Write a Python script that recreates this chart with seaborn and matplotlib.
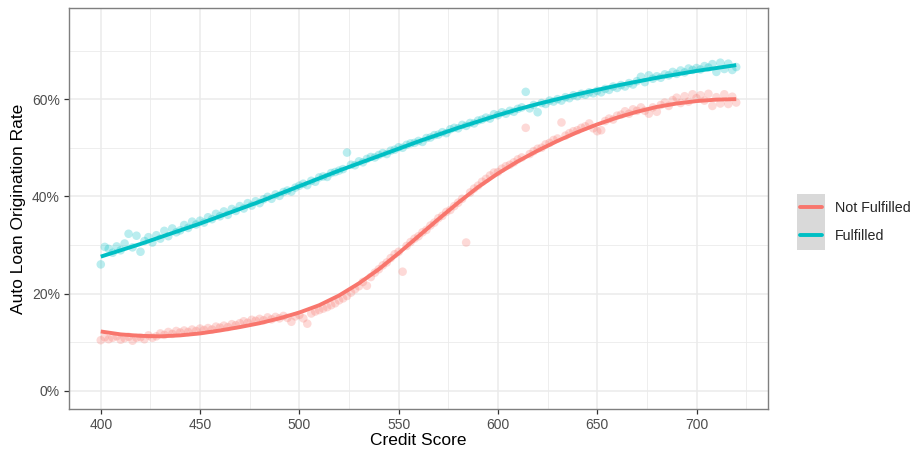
import matplotlib
matplotlib.use("Agg")
import matplotlib.pyplot as plt
from matplotlib.patches import Rectangle
from matplotlib.lines import Line2D
from matplotlib.ticker import FixedLocator, FuncFormatter
import seaborn as sns
import pandas as pd

# ---------------- data ----------------
groups = ["Not Fulfilled", "Fulfilled"]
colors = ["#F8766D", "#00BFC4"]

scores = list(range(400, 722, 2))

not_fulfilled_pts = [
    10.4, 11.0, 10.6, 10.9, 11.2, 10.5, 10.8, 11.1, 10.3, 10.9,
    11.0, 10.6, 11.4, 10.9, 11.2, 11.8, 11.5, 12.1, 11.7, 12.3,
    12.0, 12.4, 12.1, 12.6, 12.3, 12.8, 12.5, 12.9, 12.6, 13.2,
    13.0, 13.4, 13.1, 13.7, 13.5, 13.9, 14.3, 14.0, 14.6, 14.4,
    14.8, 14.5, 15.1, 14.7, 15.2, 14.9, 15.4, 15.0, 14.2, 15.3,
    15.6, 14.9, 13.8, 15.9, 16.3, 16.6, 16.9, 17.2, 17.6, 18.0,
    18.6, 19.0, 19.5, 20.2, 20.9, 21.5, 22.4, 21.6, 23.4, 24.3,
    25.0, 25.8, 26.4, 27.3, 28.1, 28.6, 24.5, 29.8, 30.6, 31.3,
    31.8, 32.6, 33.1, 34.0, 34.6, 35.5, 36.0, 36.8, 37.2, 38.0,
    38.7, 39.5, 30.5, 40.8, 41.6, 42.2, 43.0, 43.6, 44.3, 44.9,
    45.0, 45.7, 46.2, 46.5, 47.0, 47.6, 48.0, 54.1, 48.7, 49.3,
    49.8, 50.0, 50.7, 51.0, 51.6, 51.9, 55.2, 52.5, 53.0, 53.4,
    53.6, 54.1, 54.4, 55.0, 54.0, 53.4, 53.6, 55.5, 56.0, 55.8,
    56.6, 56.8, 57.5, 57.0, 57.9, 57.6, 58.3, 57.6, 57.0, 58.3,
    57.4, 58.8, 59.3, 58.6, 59.8, 60.3, 59.2, 60.6, 59.5, 61.0,
    60.2, 60.8, 59.7, 61.1, 58.6, 60.4, 59.1, 61.0, 59.0, 60.5,
    59.3,
]

fulfilled_pts = [
    26.0, 29.6, 29.2, 28.4, 29.7, 28.9, 30.3, 32.3, 29.5, 31.9,
    28.6, 30.8, 31.6, 30.5, 32.0, 31.3, 32.9, 31.8, 33.4, 32.6,
    33.0, 34.1, 33.5, 34.8, 34.2, 35.0, 34.6, 35.7, 35.3, 36.4,
    35.9, 36.9, 36.2, 37.4, 37.0, 38.0, 37.5, 38.6, 38.1, 39.0,
    38.6, 39.4, 39.9, 39.5, 40.4, 40.1, 40.9, 41.2, 41.0, 41.8,
    42.2, 42.6, 42.3, 43.2, 43.0, 43.9, 44.1, 44.0, 44.8, 45.0,
    45.3, 45.6, 49.0, 46.5, 46.4, 47.2, 47.0, 47.7, 48.1, 48.0,
    48.5, 48.9, 48.7, 49.4, 49.6, 50.1, 50.0, 50.6, 50.9, 51.0,
    51.4, 51.2, 52.0, 52.1, 52.6, 52.7, 53.2, 53.0, 53.8, 54.1,
    54.0, 54.7, 54.5, 55.1, 55.0, 55.6, 55.8, 56.2, 56.0, 56.9,
    56.7, 57.3, 57.0, 57.6, 57.4, 58.0, 58.3, 61.5, 58.1, 58.8,
    57.3, 59.2, 59.0, 59.7, 59.5, 60.0, 59.7, 60.4, 60.2, 60.8,
    60.6, 61.1, 60.9, 61.4, 61.2, 61.7, 61.4, 62.1, 61.9, 62.6,
    62.3, 62.9, 62.6, 63.3, 63.0, 63.7, 64.6, 63.5, 64.9, 64.2,
    64.7, 64.4, 65.1, 64.9, 65.6, 65.2, 65.9, 65.5, 66.3, 66.0,
    66.4, 66.1, 66.8, 66.5, 67.2, 65.6, 67.5, 66.2, 67.3, 66.0,
    66.6,
]

fit_scores = list(range(400, 730, 10))
not_fulfilled_fit = [
    12.2, 11.6, 11.3, 11.2, 11.4, 11.8, 12.4, 13.1, 13.9, 14.9,
    16.1, 17.6, 19.6, 22.1, 25.0, 28.3, 31.8, 35.3, 38.7, 41.9,
    44.7, 47.2, 49.4, 51.4, 53.2, 54.8, 56.2, 57.4, 58.4, 59.1,
    59.6, 59.9, 60.0,
]
fulfilled_fit = [
    27.6, 28.9, 30.2, 31.6, 33.0, 34.4, 35.9, 37.4, 38.9, 40.5,
    42.1, 43.7, 45.3, 46.8, 48.3, 49.8, 51.3, 52.7, 54.1, 55.4,
    56.7, 57.9, 59.0, 60.0, 61.0, 61.9, 62.8, 63.6, 64.4, 65.1,
    65.8, 66.4, 67.0,
]

x_ticks = [400, 450, 500, 550, 600, 650, 700]
y_ticks = [0, 20, 40, 60]

pts = pd.DataFrame({
    "score": scores * 2,
    "rate": [v / 100 for v in not_fulfilled_pts + fulfilled_pts],
    "group": [groups[0]] * len(scores) + [groups[1]] * len(scores),
})
fit = pd.DataFrame({
    "score": fit_scores * 2,
    "rate": [v / 100 for v in not_fulfilled_fit + fulfilled_fit],
    "group": [groups[0]] * len(fit_scores) + [groups[1]] * len(fit_scores),
})

# ---------------- plot ----------------
sns.set_theme(style="white")
plt.rcParams["font.family"] = ["Liberation Sans", "DejaVu Sans"]

W, H = 910, 453
fig = plt.figure(figsize=(W / 100, H / 100), dpi=100)
ax = fig.add_axes([69 / W, 1 - 409 / H, (768 - 69) / W, (409 - 8) / H])

palette = dict(zip(groups, colors))
sns.scatterplot(data=pts, x="score", y="rate", hue="group", palette=palette,
                alpha=0.27, s=38, linewidth=0, legend=False, ax=ax, zorder=3)
sns.lineplot(data=fit, x="score", y="rate", hue="group", palette=palette,
             linewidth=2.8, legend=False, ax=ax, zorder=4)
for ln in ax.get_lines():
    ln.set_solid_joinstyle("round")
    ln.set_solid_capstyle("butt")

ax.set_xlim(384, 736)
ax.set_ylim(-0.0375, 0.7875)

ax.xaxis.set_major_locator(FixedLocator(x_ticks))
ax.xaxis.set_minor_locator(FixedLocator([375, 425, 475, 525, 575, 625, 675, 725]))
ax.yaxis.set_major_locator(FixedLocator([v / 100 for v in y_ticks]))
ax.yaxis.set_minor_locator(FixedLocator([0.1, 0.3, 0.5, 0.7]))
ax.yaxis.set_major_formatter(FuncFormatter(lambda v, p: f"{v * 100:.0f}%"))

ax.grid(which="major", color="#EBEBEB", linewidth=1.1, zorder=0)
ax.grid(which="minor", color="#EBEBEB", linewidth=0.6, zorder=0)
ax.set_axisbelow(True)
for sp in ax.spines.values():
    sp.set_color("#7F7F7F")
    sp.set_linewidth(1.0)

ax.tick_params(axis="both", which="major", length=3.5, width=0.9, color="#333333",
               labelsize=10, labelcolor="#4D4D4D", pad=3, direction="out")
ax.tick_params(axis="both", which="minor", length=0)
ax.tick_params(axis="x", bottom=True)
ax.tick_params(axis="y", left=True)

ax.set_xlabel("Credit Score", fontsize=12.5, color="black", labelpad=1)
ax.set_ylabel("Auto Loan Origination Rate", fontsize=12.5, color="black", labelpad=4)

# legend with grey key background (ggplot style)
fig.patches.append(Rectangle((797 / W, 1 - 249.5 / H), 28 / W, 56 / H,
                             transform=fig.transFigure, facecolor="#D9D9D9",
                             edgecolor="none", zorder=0))
handles = [Line2D([], [], color=c, linewidth=2.8) for c in colors]
fig.legend(handles, groups, loc="center left", bbox_to_anchor=(800 / W, 1 - 222 / H),
           frameon=False, fontsize=10.3, handlelength=1.54, handletextpad=0.88,
           labelspacing=1.02, borderpad=0, borderaxespad=0)

fig.savefig("out.png", dpi=100)
